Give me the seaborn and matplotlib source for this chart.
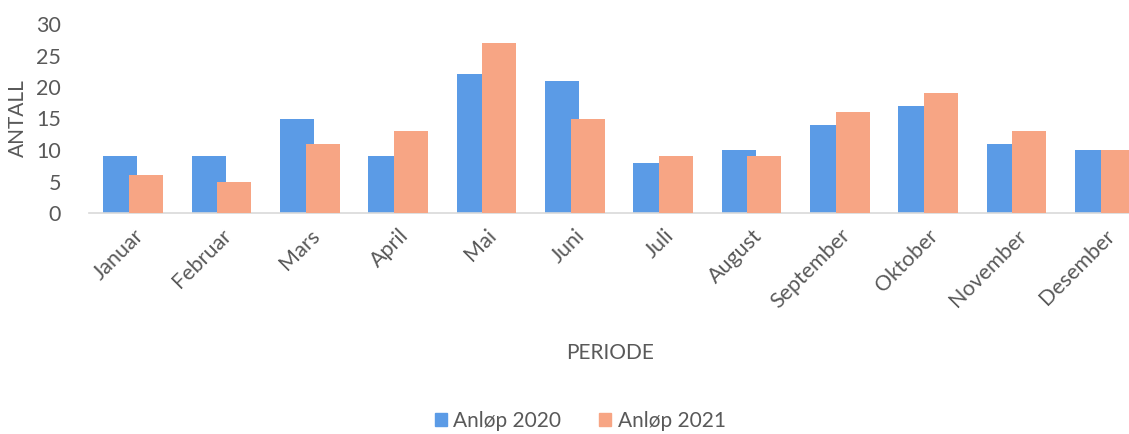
import seaborn as sns
import matplotlib.pyplot as plt
import pandas as pd

months = ["Januar", "Februar", "Mars", "April", "Mai", "Juni", "Juli",
          "August", "September", "Oktober", "November", "Desember"]
anlop_2020 = [9, 9, 15, 9, 22, 21, 8, 10, 14, 17, 11, 10]
anlop_2021 = [6, 5, 11, 13, 27, 15, 9, 9, 16, 19, 13, 10]
series = ["Anløp 2020", "Anløp 2021"]
colors = ["#5B9BE6", "#F7A584"]

df = pd.DataFrame({
    "PERIODE": months * 2,
    "ANTALL": anlop_2020 + anlop_2021,
    "serie": [series[0]] * 12 + [series[1]] * 12,
})

sns.set_style("white")
plt.rcParams["font.family"] = ["Lato", "DejaVu Sans"]
txt = "#595959"

fig = plt.figure(figsize=(11.29, 4.34), dpi=100)
ax = fig.add_axes([89 / 1129, 221 / 434, 1060 / 1129, 189 / 434])

sns.barplot(data=df, x="PERIODE", y="ANTALL", hue="serie", order=months,
            hue_order=series, palette=colors, width=0.7, saturation=1,
            legend=False, ax=ax)

# Excel style: bars wider than half the slot, overlapping a bit
bw, off = 0.385, 0.147
for i, bars in enumerate(ax.containers):
    for j, p in enumerate(bars):
        cx = j + (-off if i == 0 else off)
        p.set_width(bw)
        p.set_x(cx - bw / 2)
        p.set_edgecolor("none")
        p.set_zorder(2 + i)

ax.set_xlim(-0.5, 11.5)
ax.set_ylim(0, 30)
ax.set_yticks(range(0, 31, 5))
ax.tick_params(axis="both", length=0, labelsize=15.5, labelcolor=txt)
ax.tick_params(axis="y", pad=20)
plt.setp(ax.get_xticklabels(), rotation=45, ha="right", rotation_mode="anchor")
ax.tick_params(axis="x", pad=9)
for s in ["top", "right", "left"]:
    ax.spines[s].set_visible(False)
ax.spines["bottom"].set_color("#D9D9D9")
ax.spines["bottom"].set_linewidth(1.2)

ax.set_ylabel("ANTALL", fontsize=15, color=txt, labelpad=6)
ax.set_xlabel("")
fig.text(610 / 1129, 1 - 353 / 434, "PERIODE", fontsize=15, color=txt,
         ha="center", va="center")

handles = [plt.Rectangle((0, 0), 1, 1, color=c) for c in colors]
fig.legend(handles, series, loc="center", bbox_to_anchor=(580 / 1129, 1 - 421 / 434),
           ncol=2, frameon=False, fontsize=15, labelcolor=txt,
           handlelength=0.6, handleheight=0.6, handletextpad=0.3, columnspacing=1.8)

fig.savefig("out.png", dpi=100)
